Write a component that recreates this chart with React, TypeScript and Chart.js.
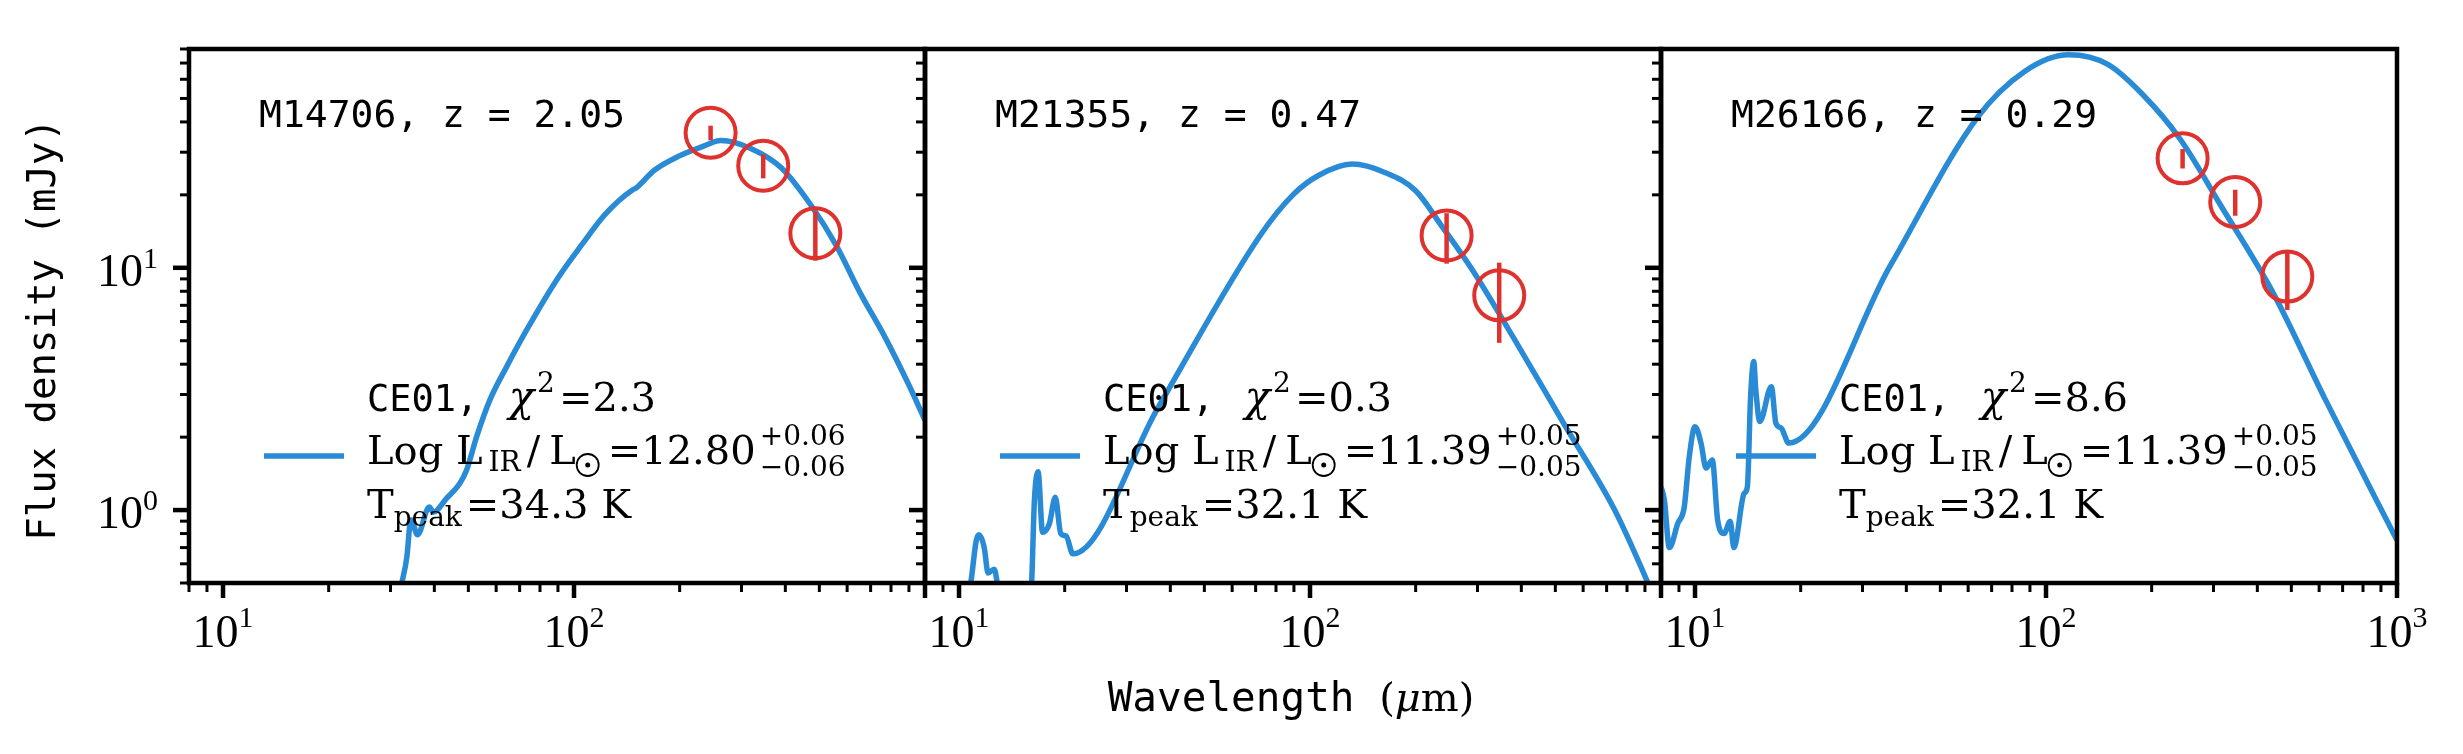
import { useEffect, useRef } from 'react';
import { Chart, registerables } from 'chart.js';

Chart.register(...registerables);

const WIDTH = 2463;
const HEIGHT = 754;

const BLUE = '#298bd5';
const RED = '#de322e';
const SERIF = '"DejaVu Serif"';
const MONO = '"DejaVu Sans Mono"';
const TICK_FONT = '"Liberation Serif"';

// plot boxes in page pixels
const panelLeft = [189, 925, 1661];
const panelWidth = 736;
const plotTop = 49;
const plotBottom = 583;

const xRange = [8, 1000];
const yRange = [0.5, 80];

const xMajorTicks = [10, 100, 1000];
const xMinorTicks = [8, 9, 20, 30, 40, 50, 60, 70, 80, 90, 200, 300, 400, 500, 600, 700, 800, 900];
const yMajorTicks = [1, 10];
const yMinorTicks = [0.5, 0.6, 0.7, 0.8, 0.9, 2, 3, 4, 5, 6, 7, 8, 9, 20, 30, 40, 50, 60, 70, 80];
const xTickLabelExps = [[1, 2], [1, 2], [1, 2, 3]];
const yTickLabelExps = [0, 1];

// panel annotations
const sourceNames = ['M14706', 'M21355', 'M26166'];
const redshifts = ['2.05', '0.47', '0.29'];
const chiSquared = ['2.3', '0.3', '8.6'];
const logLir = ['12.80', '11.39', '11.39'];
const logLirErr = ['0.06', '0.05', '0.05'];
const peakTemps = ['34.3', '32.1', '32.1'];

// CE01 template fits (wavelength in um, flux density in mJy)
const wave1 = [29, 32.3, 33.4, 34.1, 34.4, 35.8, 38.7, 39.7, 43.4, 47.3, 49.4, 52.8, 57.6, 64.3, 73.3, 89.7, 105, 123, 147, 150, 169, 199, 233, 262, 320, 390, 476, 558, 654, 767, 899, 1000];
const flux1 = [0.25, 0.5, 0.64, 0.88, 0.91, 0.79, 1.03, 0.98, 1.12, 1.29, 1.46, 2.01, 2.85, 3.91, 5.54, 9.02, 12.4, 16.7, 21.0, 21.3, 25.2, 28.9, 31.7, 33.5, 31.0, 25.8, 17.9, 12.4, 7.86, 5.21, 3.29, 2.35];

const wave2 = [10.0, 10.8, 11.2, 11.4, 11.8, 12.1, 12.6, 12.9, 13.5, 15.5, 16.1, 16.4, 16.8, 17.3, 18.1, 18.8, 19.5, 20.2, 21.1, 36.9, 72.1, 89.7, 106, 132, 164, 200, 237, 289, 378, 528, 738, 918, 1000];
const flux2 = [0.3, 0.5, 0.75, 0.79, 0.7, 0.55, 0.57, 0.48, 0.3, 0.3, 0.5, 1.1, 1.44, 0.81, 0.88, 1.13, 0.8, 0.78, 0.66, 2.65, 13.6, 20.1, 24.1, 26.8, 24.7, 20.8, 14.9, 9.88, 5.21, 2.28, 1.0, 0.5, 0.37];

const wave3 = [8.0, 8.18, 8.45, 8.93, 9.32, 9.63, 10.0, 10.4, 10.75, 11.2, 11.6, 12.1, 12.6, 12.9, 13.8, 14.1, 14.4, 14.7, 14.9, 15.3, 16.5, 17.0, 17.6, 18.5, 36.0, 63.8, 86.7, 116, 150, 190, 241, 316, 444, 624, 1000];
const flux3 = [1.25, 1.1, 0.7, 0.88, 1.03, 1.66, 2.21, 1.89, 1.49, 1.61, 0.91, 0.8, 0.9, 0.7, 1.17, 1.25, 2.94, 4.1, 3.13, 2.32, 3.23, 2.28, 2.18, 1.89, 10.2, 41.8, 64.5, 75.7, 69.1, 51.3, 34.0, 17.9, 7.86, 2.87, 0.75];

// observed photometry
const obsWave1 = [245, 346, 487];
const obsFlux1 = [36.1, 26.4, 13.9];
const obsErr1 = [2.5, 3.0, 3.2];

const obsWave2 = [245, 346];
const obsFlux2 = [13.6, 7.7];
const obsErr2 = [3.2, 2.8];

const obsWave3 = [245, 346, 487];
const obsFlux3 = [28.3, 18.7, 9.2];
const obsErr3 = [2.6, 2.3, 2.5];

const curveWaves = [wave1, wave2, wave3];
const curveFluxes = [flux1, flux2, flux3];
const obsWaves = [obsWave1, obsWave2, obsWave3];
const obsFluxes = [obsFlux1, obsFlux2, obsFlux3];
const obsErrs = [obsErr1, obsErr2, obsErr3];

type Run = { text: string; font: string; dy?: number; dx?: number; stacked?: boolean };

// draws text pieces one after another; stacked pieces share the previous start
function drawRuns(ctx: CanvasRenderingContext2D, x: number, y: number, runs: Run[]) {
  let cursor = x;
  let runStart = x;
  for (const run of runs) {
    ctx.font = run.font;
    const w = ctx.measureText(run.text).width;
    const start = run.stacked ? runStart : cursor + (run.dx ?? 0);
    ctx.fillText(run.text, start, y + (run.dy ?? 0));
    if (!run.stacked) runStart = start;
    cursor = Math.max(cursor, start + w);
  }
  return cursor;
}

function drawSun(ctx: CanvasRenderingContext2D, x: number, baseline: number) {
  const cx = x + 12;
  const cy = baseline + 1;
  ctx.save();
  ctx.lineWidth = 1.8;
  ctx.beginPath();
  ctx.arc(cx, cy, 11, 0, Math.PI * 2);
  ctx.stroke();
  ctx.beginPath();
  ctx.arc(cx, cy, 2.5, 0, Math.PI * 2);
  ctx.fill();
  ctx.restore();
  return x + 32;
}

function decorPlugin(p: number) {
  return {
    id: `decor${p}`,
    afterDatasetsDraw(chart: any) {
      const { ctx } = chart;
      const x = chart.scales.x;
      const y = chart.scales.y;
      ctx.save();
      ctx.strokeStyle = RED;
      ctx.lineWidth = 4.5;
      obsWaves[p].forEach((w, i) => {
        const px = x.getPixelForValue(w);
        ctx.beginPath();
        ctx.moveTo(px, y.getPixelForValue(obsFluxes[p][i] + obsErrs[p][i]));
        ctx.lineTo(px, y.getPixelForValue(obsFluxes[p][i] - obsErrs[p][i]));
        ctx.stroke();
      });
      ctx.restore();
    },
    afterDraw(chart: any) {
      const { ctx, chartArea } = chart;
      const x = chart.scales.x;
      const y = chart.scales.y;
      const { left, right, top, bottom } = chartArea;
      ctx.save();
      ctx.fillStyle = '#000';
      ctx.strokeStyle = '#000';
      ctx.textBaseline = 'alphabetic';
      ctx.textAlign = 'left';

      // source label
      ctx.font = `38px ${MONO}`;
      ctx.fillText(`${sourceNames[p]}, z = ${redshifts[p]}`, left + 70, 127);

      // legend
      ctx.save();
      ctx.strokeStyle = BLUE;
      ctx.lineWidth = 5.5;
      ctx.beginPath();
      ctx.moveTo(left + 75, 456);
      ctx.lineTo(left + 155, 456);
      ctx.stroke();
      ctx.restore();

      const tx = left + 178;
      drawRuns(ctx, tx, 411, [
        { text: 'CE01, ', font: `37px ${MONO}` },
        { text: 'χ', font: `italic 42px ${SERIF}`, dx: 8 },
        { text: '2', font: `28px ${SERIF}`, dy: -19, dx: 3 },
        { text: `=${chiSquared[p]}`, font: `40px ${SERIF}`, dx: 4 },
      ]);
      let cx = drawRuns(ctx, tx, 464, [
        { text: 'Log L', font: `40px ${SERIF}` },
        { text: 'IR', font: `28px ${SERIF}`, dy: 7, dx: 6 },
        { text: '/', font: `40px ${SERIF}`, dx: 6 },
        { text: 'L', font: `40px ${SERIF}`, dx: 9 },
      ]);
      cx = drawSun(ctx, cx, 464);
      drawRuns(ctx, cx, 464, [
        { text: `=${logLir[p]}`, font: `40px ${SERIF}` },
        { text: `+${logLirErr[p]}`, font: `28px ${SERIF}`, dy: -19, dx: 4 },
        { text: `\u2212${logLirErr[p]}`, font: `28px ${SERIF}`, dy: 12, stacked: true },
      ]);
      drawRuns(ctx, tx, 518, [
        { text: 'T', font: `40px ${SERIF}` },
        { text: 'peak', font: `28px ${SERIF}`, dy: 8 },
        { text: `=${peakTemps[p]} K`, font: `40px ${SERIF}`, dx: 4 },
      ]);

      // frame
      ctx.lineWidth = 4.5;
      ctx.strokeRect(left, top, right - left, bottom - top);

      // y ticks, outward on the left side
      const yTick = (v: number, len: number, lw: number) => {
        const py = y.getPixelForValue(v);
        ctx.lineWidth = lw;
        ctx.beginPath();
        ctx.moveTo(left - len, py);
        ctx.lineTo(left, py);
        ctx.stroke();
      };
      yMinorTicks.forEach((v) => yTick(v, 9, 3));
      yMajorTicks.forEach((v) => yTick(v, 16, 4.5));

      // x ticks, outward at the bottom
      const xTick = (v: number, len: number, lw: number) => {
        if (v < xRange[0] || v > xRange[1]) return;
        const px = x.getPixelForValue(v);
        ctx.lineWidth = lw;
        ctx.beginPath();
        ctx.moveTo(px, bottom);
        ctx.lineTo(px, bottom + len);
        ctx.stroke();
      };
      xMinorTicks.forEach((v) => xTick(v, 9, 3));
      xMajorTicks.forEach((v) => xTick(v, 15, 4.5));

      // x tick labels
      xTickLabelExps[p].forEach((e) => {
        const px = x.getPixelForValue(Math.pow(10, e));
        ctx.font = `46px ${TICK_FONT}`;
        const wBase = ctx.measureText('10').width;
        ctx.font = `30px ${TICK_FONT}`;
        const wExp = ctx.measureText(String(e)).width;
        const start = px - (wBase + wExp) / 2;
        ctx.font = `46px ${TICK_FONT}`;
        ctx.fillText('10', start, 647);
        ctx.font = `30px ${TICK_FONT}`;
        ctx.fillText(String(e), start + wBase, 627);
      });

      if (p === 0) {
        // y tick labels
        yTickLabelExps.forEach((e) => {
          const py = y.getPixelForValue(Math.pow(10, e));
          ctx.font = `30px ${TICK_FONT}`;
          const wExp = ctx.measureText(String(e)).width;
          ctx.font = `46px ${TICK_FONT}`;
          const wBase = ctx.measureText('10').width;
          const end = 158;
          ctx.fillText('10', end - wExp - wBase, py + 18);
          ctx.font = `30px ${TICK_FONT}`;
          ctx.fillText(String(e), end - wExp, py);
        });

        // axis titles
        const xRuns: Run[] = [
          { text: 'Wavelength ', font: `41px ${MONO}` },
          { text: '(', font: `40px ${SERIF}` },
          { text: 'μ', font: `italic 40px ${SERIF}` },
          { text: 'm)', font: `40px ${SERIF}` },
        ];
        let total = 0;
        xRuns.forEach((r) => {
          ctx.font = r.font;
          total += ctx.measureText(r.text).width;
        });
        drawRuns(ctx, 1291 - total / 2, 711, xRuns);

        ctx.save();
        ctx.translate(54.5, 329.5);
        ctx.rotate(-Math.PI / 2);
        ctx.textAlign = 'center';
        ctx.font = `39px ${MONO}`;
        ctx.fillText('Flux density (mJy)', 0, 0);
        ctx.restore();
      }
      ctx.restore();
    },
  };
}

function makeConfig(p: number): any {
  const curve = curveWaves[p].map((w, i) => ({ x: w, y: curveFluxes[p][i] }));
  const obs = obsWaves[p].map((w, i) => ({ x: w, y: obsFluxes[p][i] }));
  return {
    type: 'scatter',
    data: {
      datasets: [
        {
          data: obs,
          showLine: false,
          pointRadius: 25,
          pointHoverRadius: 25,
          pointBorderWidth: 4,
          pointBorderColor: RED,
          pointBackgroundColor: 'rgba(0,0,0,0)',
          clip: false,
          order: 1,
        },
        {
          data: curve,
          showLine: true,
          borderColor: BLUE,
          borderWidth: 5.5,
          pointRadius: 0,
          pointHoverRadius: 0,
          cubicInterpolationMode: 'monotone',
          clip: 0,
          order: 2,
        },
      ],
    },
    options: {
      animation: false,
      responsive: false,
      events: [],
      layout: {
        padding: {
          left: panelLeft[p],
          right: WIDTH - panelLeft[p] - panelWidth,
          top: plotTop,
          bottom: HEIGHT - plotBottom,
        },
      },
      scales: {
        x: { type: 'logarithmic', min: xRange[0], max: xRange[1], bounds: 'data', display: false },
        y: { type: 'logarithmic', min: yRange[0], max: yRange[1], bounds: 'data', display: false },
      },
      plugins: {
        legend: { display: false },
        tooltip: { enabled: false },
      },
    },
    plugins: [decorPlugin(p)],
  };
}

export default function App() {
  const ref1 = useRef<HTMLCanvasElement>(null);
  const ref2 = useRef<HTMLCanvasElement>(null);
  const ref3 = useRef<HTMLCanvasElement>(null);

  useEffect(() => {
    document.body.style.margin = '0';
    const charts = [ref1, ref2, ref3].map((r, p) =>
      r.current ? new Chart(r.current, makeConfig(p)) : null
    );
    return () => {
      charts.forEach((c) => c?.destroy());
    };
  }, []);

  return (
    <div style={{ position: 'relative', width: WIDTH, height: HEIGHT, background: '#fff' }}>
      {[ref1, ref2, ref3].map((r, p) => (
        <canvas
          key={p}
          ref={r}
          width={WIDTH}
          height={HEIGHT}
          style={{ position: 'absolute', left: 0, top: 0 }}
        />
      ))}
    </div>
  );
}
